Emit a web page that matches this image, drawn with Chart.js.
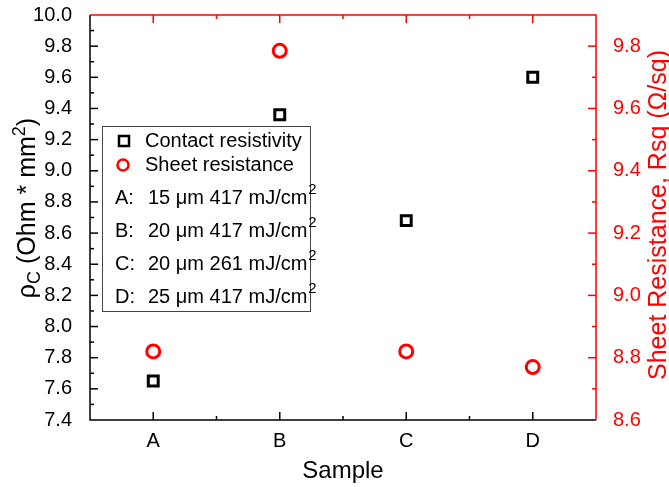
<!DOCTYPE html>
<html>
<head>
<meta charset="utf-8">
<script src="https://cdn.jsdelivr.net/npm/chart.js@4.4.1/dist/chart.umd.min.js"></script>
<style>
  html, body { margin: 0; padding: 0; background: #fff; }
  #wrap { width: 669px; height: 487px; position: relative; }
</style>
</head>
<body>
<div id="wrap"><canvas id="chart"></canvas></div>
<script>
// ---------- data ----------
const samples = ["A", "B", "C", "D"];
const samplePos = [1, 2, 3, 4];
const contactResistivity = [7.65, 9.36, 8.68, 9.60];   // left axis, Ohm*mm^2
const sheetResistance    = [8.82, 9.785, 8.82, 8.77];  // right axis, Ohm/sq
const sampleNotes = [
  ["A:", "15 \u03bcm 417 mJ/cm"],
  ["B:", "20 \u03bcm 417 mJ/cm"],
  ["C:", "20 \u03bcm 261 mJ/cm"],
  ["D:", "25 \u03bcm 417 mJ/cm"],
];
const leftRange  = [7.4, 10.0];
const rightRange = [8.6, 9.9];

const FONT = "'Liberation Sans', Arial, sans-serif";
const RED = "#ff0000";

const tenth = (v) => Math.round(v * 10);

// ---------- helpers ----------
function richText(ctx, x, y, parts, color) {
  // parts: [text, size, dy]
  let w = 0;
  parts.forEach(([t, s]) => { ctx.font = `${s}px ${FONT}`; w += ctx.measureText(t).width; });
  let cx = x - w / 2;
  ctx.fillStyle = color;
  ctx.textBaseline = "alphabetic";
  ctx.textAlign = "left";
  parts.forEach(([t, s, dy]) => {
    ctx.font = `${s}px ${FONT}`;
    ctx.fillText(t, cx, y + (dy || 0));
    cx += ctx.measureText(t).width;
  });
}

// ---------- frame, inward ticks, titles, legend ----------
const framePlugin = {
  id: "frame",
  afterDraw(chart) {
    const ctx = chart.ctx;
    const a = chart.chartArea;
    const sx = chart.scales.x, sy = chart.scales.y, sy2 = chart.scales.y2;
    ctx.save();
    ctx.lineWidth = 1.5;

    // x ticks (bottom black, top red)
    sx.ticks.forEach((t) => {
      if (t.value <= sx.min || t.value >= sx.max) return;
      const px = sx.getPixelForValue(t.value);
      const len = Number.isInteger(t.value) ? 8 : 4;
      ctx.strokeStyle = "#000";
      ctx.beginPath(); ctx.moveTo(px, a.bottom); ctx.lineTo(px, a.bottom - len); ctx.stroke();
      ctx.strokeStyle = RED;
      ctx.beginPath(); ctx.moveTo(px, a.top); ctx.lineTo(px, a.top + len); ctx.stroke();
    });
    // left ticks
    ctx.strokeStyle = "#000";
    sy.ticks.forEach((t) => {
      if (t.value <= sy.min + 1e-6 || t.value >= sy.max - 1e-6) return;
      const py = sy.getPixelForValue(t.value);
      const len = tenth(t.value) % 2 === 0 ? 8 : 4;
      ctx.beginPath(); ctx.moveTo(a.left, py); ctx.lineTo(a.left + len, py); ctx.stroke();
    });
    // right ticks
    ctx.strokeStyle = RED;
    sy2.ticks.forEach((t) => {
      if (t.value <= sy2.min + 1e-6 || t.value >= sy2.max - 1e-6) return;
      const py = sy2.getPixelForValue(t.value);
      const len = tenth(t.value) % 2 === 0 ? 8 : 4;
      ctx.beginPath(); ctx.moveTo(a.right, py); ctx.lineTo(a.right - len, py); ctx.stroke();
    });

    // frame lines
    ctx.strokeStyle = "#000";
    ctx.beginPath(); ctx.moveTo(a.left, a.top); ctx.lineTo(a.left, a.bottom); ctx.lineTo(a.right, a.bottom); ctx.stroke();
    ctx.strokeStyle = RED;
    ctx.beginPath(); ctx.moveTo(a.left, a.top); ctx.lineTo(a.right, a.top); ctx.lineTo(a.right, a.bottom); ctx.stroke();

    // axis titles
    richText(ctx, (a.left + a.right) / 2, 478, [["Sample", 24]], "#000");

    ctx.save();
    ctx.translate(35, 208);
    ctx.rotate(-Math.PI / 2);
    richText(ctx, 0, 0, [["\u03c1", 25], ["C", 18, 5], [" (Ohm * mm", 25], ["2", 18, -10], [")", 25]], "#000");
    ctx.restore();

    ctx.save();
    ctx.translate(666, 215);
    ctx.rotate(-Math.PI / 2);
    richText(ctx, 0, 0, [["Sheet Resistance, Rsq (\u03a9/sq)", 25]], RED);
    ctx.restore();

    // legend box
    const bx = 102, by = 126, bw = 208, bh = 185;
    ctx.fillStyle = "#fff";
    ctx.fillRect(bx, by, bw, bh);
    ctx.strokeStyle = "#444";
    ctx.lineWidth = 1;
    ctx.strokeRect(bx + 0.5, by + 0.5, bw, bh);

    ctx.lineWidth = 2.5;
    ctx.strokeStyle = "#000";
    ctx.strokeRect(119, 136, 10, 10);
    ctx.strokeStyle = RED;
    ctx.beginPath(); ctx.arc(123, 165, 5.5, 0, Math.PI * 2); ctx.stroke();

    ctx.fillStyle = "#000";
    ctx.font = `20px ${FONT}`;
    ctx.textBaseline = "middle";
    ctx.textAlign = "left";
    ctx.fillText(chart.data.datasets[0].label, 145, 141);
    ctx.fillText(chart.data.datasets[1].label, 145, 165);

    sampleNotes.forEach(([k, txt], i) => {
      const y = 198 + i * 33;
      ctx.font = `20px ${FONT}`;
      ctx.textBaseline = "middle";
      ctx.fillStyle = "#000";
      ctx.fillText(k, 115, y);
      ctx.fillText(txt, 148, y);
      const w = ctx.measureText(txt).width;
      ctx.font = `15px ${FONT}`;
      ctx.fillText("2", 148 + w + 1, y - 8);
    });

    ctx.restore();
  },
};

// ---------- chart ----------
new Chart(document.getElementById("chart"), {
  type: "scatter",
  data: {
    datasets: [
      {
        label: "Contact resistivity",
        data: samplePos.map((x, i) => ({ x, y: contactResistivity[i] })),
        yAxisID: "y",
        pointStyle: "rect",
        pointRadius: 7,
        pointBorderWidth: 3,
        borderColor: "#000",
        backgroundColor: "rgba(0,0,0,0)",
      },
      {
        label: "Sheet resistance",
        data: samplePos.map((x, i) => ({ x, y: sheetResistance[i] })),
        yAxisID: "y2",
        pointStyle: "circle",
        pointRadius: 6.5,
        pointBorderWidth: 3,
        borderColor: RED,
        backgroundColor: "rgba(0,0,0,0)",
      },
    ],
  },
  options: {
    responsive: true,
    maintainAspectRatio: false,
    animation: false,
    layout: { padding: { top: 15, left: 0, right: 0, bottom: 0 } },
    plugins: { legend: { display: false }, tooltip: { enabled: false } },
    scales: {
      x: {
        type: "linear",
        min: 0.5, max: 4.5,
        grid: { display: false },
        border: { display: false },
        ticks: {
          stepSize: 0.5,
          autoSkip: false,
          maxRotation: 0,
          padding: 1,
          color: "#000",
          font: { family: FONT, size: 20 },
          callback: (v) => Number.isInteger(v) ? samples[v - 1] : "",
        },
        afterFit: (s) => { s.height = 67; s.paddingLeft = 0; s.paddingRight = 0; },
      },
      y: {
        position: "left",
        min: leftRange[0], max: leftRange[1],
        grid: { display: false },
        border: { display: false },
        ticks: {
          stepSize: 0.1,
          autoSkip: false,
          padding: 10,
          color: "#000",
          font: { family: FONT, size: 20 },
          callback: (v) => tenth(v) % 2 === 0 ? (tenth(v) / 10).toFixed(1) : "",
        },
        afterFit: (s) => { s.width = 90; s.paddingTop = 0; s.paddingBottom = 0; },
      },
      y2: {
        position: "right",
        min: rightRange[0], max: rightRange[1],
        grid: { display: false },
        border: { display: false },
        ticks: {
          stepSize: 0.1,
          autoSkip: false,
          padding: 9,
          color: RED,
          font: { family: FONT, size: 20 },
          callback: (v) => tenth(v) % 2 === 0 ? (tenth(v) / 10).toFixed(1) : "",
        },
        afterFit: (s) => { s.width = 73; s.paddingTop = 0; s.paddingBottom = 0; },
      },
    },
  },
  plugins: [framePlugin],
});
</script>
</body>
</html>
